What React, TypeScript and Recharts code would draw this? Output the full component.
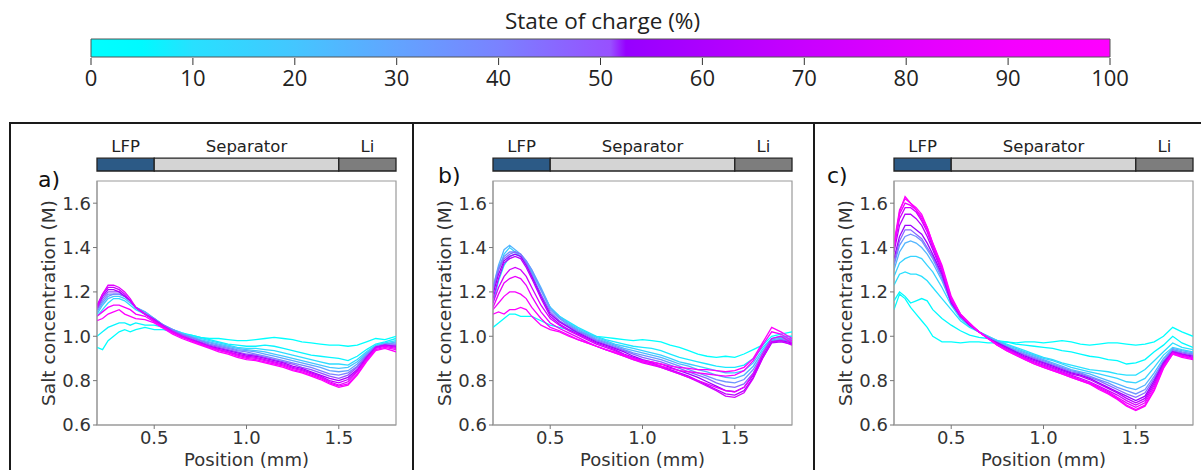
import React from 'react';
import { LineChart, Line, XAxis, YAxis, ReferenceArea, Label, BarChart, Bar } from 'recharts';

// Position grid (mm) shared by all profiles
const positions = [0.19, 0.22, 0.25, 0.28, 0.31, 0.34, 0.37, 0.40, 0.45, 0.50, 0.55, 0.60, 0.65, 0.70, 0.75, 0.80, 0.85, 0.90, 0.95, 1.00, 1.05, 1.10, 1.15, 1.20, 1.25, 1.30, 1.35, 1.40, 1.45, 1.50, 1.55, 1.60, 1.65, 1.70, 1.75, 1.81];

const socTicks = [0, 10, 20, 30, 40, 50, 60, 70, 80, 90, 100];
const socRange = [{ name: 'soc', value: 100 }];
const xTicks = [0.5, 1.0, 1.5];
const yTicks = [0.6, 0.8, 1.0, 1.2, 1.4, 1.6];

const regions = [
  { name: 'LFP', from: 0.19, to: 0.5 },
  { name: 'Separator', from: 0.5, to: 1.5 },
  { name: 'Li', from: 1.5, to: 1.81 },
];
const regionFills = ['#2C5A86', '#D4D4D4', '#7D7D7D'];

// Panel a
const panelASoc = [0, 6, 12, 20, 30, 40, 50, 60, 70, 82, 92, 100];
const panelACurves = [
  [0.95, 0.94, 0.98, 1.00, 1.02, 1.03, 1.02, 1.03, 1.04, 1.03, 1.03, 1.02, 1.01, 1.005, 0.995, 0.99, 0.99, 0.985, 0.98, 0.98, 0.985, 0.99, 0.995, 0.99, 0.985, 0.975, 0.97, 0.965, 0.96, 0.96, 0.955, 0.96, 0.975, 0.99, 0.985, 1.0],
  [1.00, 1.02, 1.04, 1.05, 1.06, 1.06, 1.05, 1.06, 1.05, 1.05, 1.04, 1.03, 1.015, 1.005, 0.995, 0.985, 0.975, 0.965, 0.96, 0.955, 0.955, 0.96, 0.955, 0.945, 0.935, 0.925, 0.915, 0.91, 0.905, 0.90, 0.89, 0.91, 0.94, 0.965, 0.975, 0.99],
  [1.09, 1.12, 1.15, 1.17, 1.17, 1.16, 1.14, 1.12, 1.10, 1.08, 1.05, 1.03, 1.015, 1.0, 0.99, 0.98, 0.97, 0.96, 0.95, 0.945, 0.945, 0.94, 0.935, 0.925, 0.915, 0.905, 0.895, 0.885, 0.875, 0.875, 0.87, 0.895, 0.93, 0.96, 0.97, 0.98],
  [1.10, 1.14, 1.17, 1.18, 1.18, 1.17, 1.15, 1.13, 1.11, 1.08, 1.05, 1.03, 1.01, 1.0, 0.985, 0.975, 0.965, 0.955, 0.945, 0.94, 0.935, 0.93, 0.92, 0.91, 0.9, 0.89, 0.88, 0.87, 0.86, 0.855, 0.86, 0.885, 0.925, 0.955, 0.965, 0.975],
  [1.11, 1.15, 1.18, 1.19, 1.19, 1.18, 1.16, 1.13, 1.11, 1.08, 1.05, 1.03, 1.01, 0.995, 0.98, 0.97, 0.96, 0.95, 0.94, 0.935, 0.93, 0.92, 0.91, 0.9, 0.89, 0.88, 0.87, 0.86, 0.845, 0.84, 0.845, 0.875, 0.92, 0.955, 0.965, 0.97],
  [1.12, 1.16, 1.19, 1.19, 1.19, 1.18, 1.16, 1.13, 1.10, 1.08, 1.05, 1.03, 1.01, 0.995, 0.98, 0.965, 0.955, 0.945, 0.935, 0.93, 0.92, 0.91, 0.9, 0.89, 0.88, 0.87, 0.86, 0.845, 0.83, 0.825, 0.835, 0.865, 0.915, 0.955, 0.965, 0.965],
  [1.12, 1.17, 1.2, 1.2, 1.2, 1.18, 1.16, 1.13, 1.10, 1.075, 1.05, 1.025, 1.005, 0.99, 0.975, 0.96, 0.95, 0.94, 0.93, 0.92, 0.915, 0.905, 0.895, 0.885, 0.875, 0.86, 0.85, 0.835, 0.82, 0.81, 0.825, 0.86, 0.91, 0.95, 0.96, 0.96],
  [1.13, 1.18, 1.21, 1.21, 1.2, 1.18, 1.16, 1.13, 1.10, 1.075, 1.045, 1.02, 1.0, 0.985, 0.97, 0.955, 0.945, 0.935, 0.925, 0.915, 0.91, 0.9, 0.89, 0.88, 0.865, 0.855, 0.84, 0.825, 0.81, 0.8, 0.815, 0.85, 0.905, 0.95, 0.96, 0.955],
  [1.14, 1.19, 1.22, 1.22, 1.21, 1.19, 1.16, 1.13, 1.10, 1.07, 1.045, 1.02, 1.0, 0.985, 0.97, 0.955, 0.94, 0.93, 0.92, 0.91, 0.905, 0.895, 0.885, 0.875, 0.86, 0.85, 0.835, 0.82, 0.8, 0.79, 0.805, 0.845, 0.9, 0.95, 0.96, 0.95],
  [1.13, 1.19, 1.23, 1.23, 1.22, 1.2, 1.17, 1.13, 1.10, 1.07, 1.04, 1.02, 1.0, 0.98, 0.965, 0.95, 0.94, 0.93, 0.915, 0.905, 0.9, 0.89, 0.88, 0.87, 0.855, 0.845, 0.83, 0.815, 0.795, 0.78, 0.795, 0.84, 0.895, 0.945, 0.955, 0.945],
  [1.09, 1.11, 1.13, 1.14, 1.14, 1.13, 1.12, 1.1, 1.09, 1.065, 1.04, 1.015, 0.995, 0.98, 0.965, 0.95, 0.935, 0.925, 0.91, 0.9, 0.895, 0.885, 0.875, 0.865, 0.85, 0.84, 0.825, 0.81, 0.79, 0.775, 0.785, 0.83, 0.89, 0.94, 0.95, 0.94],
  [1.07, 1.08, 1.1, 1.11, 1.12, 1.1, 1.09, 1.08, 1.075, 1.06, 1.035, 1.01, 0.99, 0.975, 0.96, 0.945, 0.93, 0.92, 0.905, 0.895, 0.89, 0.88, 0.87, 0.86, 0.845, 0.835, 0.82, 0.805, 0.785, 0.77, 0.78, 0.825, 0.885, 0.935, 0.945, 0.93],
];

// Panel b
const panelBSoc = [0, 8, 16, 25, 35, 45, 55, 65, 75, 85, 93, 100];
const panelBCurves = [
  [1.04, 1.06, 1.08, 1.10, 1.10, 1.09, 1.09, 1.09, 1.07, 1.05, 1.04, 1.03, 1.02, 1.01, 1.0, 0.995, 0.99, 0.985, 0.98, 0.985, 0.98, 0.975, 0.96, 0.95, 0.935, 0.92, 0.91, 0.905, 0.91, 0.905, 0.92, 0.94, 0.96, 1.0, 1.01, 1.02],
  [1.15, 1.25, 1.32, 1.36, 1.37, 1.36, 1.33, 1.29, 1.21, 1.13, 1.09, 1.065, 1.04, 1.02, 1.0, 0.985, 0.975, 0.965, 0.955, 0.95, 0.945, 0.935, 0.92, 0.905, 0.895, 0.885, 0.875, 0.865, 0.86, 0.86, 0.87, 0.9, 0.95, 0.99, 1.0, 1.0],
  [1.2, 1.3, 1.37, 1.40, 1.38, 1.36, 1.33, 1.29, 1.21, 1.13, 1.09, 1.06, 1.035, 1.015, 0.995, 0.98, 0.965, 0.955, 0.945, 0.935, 0.925, 0.915, 0.9, 0.885, 0.875, 0.865, 0.855, 0.845, 0.835, 0.835, 0.845, 0.88, 0.94, 0.99, 0.995, 0.99],
  [1.22, 1.32, 1.39, 1.41, 1.39, 1.37, 1.34, 1.3, 1.22, 1.13, 1.085, 1.055, 1.03, 1.01, 0.99, 0.975, 0.96, 0.945, 0.935, 0.925, 0.915, 0.905, 0.89, 0.875, 0.865, 0.85, 0.84, 0.825, 0.815, 0.81, 0.825, 0.865, 0.93, 0.985, 0.99, 0.985],
  [1.22, 1.31, 1.36, 1.38, 1.38, 1.37, 1.34, 1.3, 1.21, 1.12, 1.08, 1.05, 1.025, 1.005, 0.985, 0.97, 0.955, 0.94, 0.925, 0.915, 0.905, 0.895, 0.88, 0.865, 0.85, 0.835, 0.82, 0.805, 0.795, 0.79, 0.805, 0.85, 0.92, 0.98, 0.985, 0.98],
  [1.21, 1.3, 1.35, 1.37, 1.38, 1.37, 1.33, 1.28, 1.19, 1.11, 1.07, 1.045, 1.02, 1.0, 0.98, 0.965, 0.95, 0.935, 0.92, 0.905, 0.895, 0.885, 0.87, 0.855, 0.84, 0.825, 0.81, 0.79, 0.775, 0.77, 0.785, 0.835, 0.91, 0.975, 0.985, 0.975],
  [1.19, 1.28, 1.34, 1.36, 1.37, 1.36, 1.32, 1.27, 1.18, 1.1, 1.065, 1.04, 1.015, 0.995, 0.975, 0.96, 0.945, 0.93, 0.91, 0.895, 0.885, 0.875, 0.86, 0.845, 0.83, 0.815, 0.795, 0.775, 0.755, 0.75, 0.77, 0.825, 0.905, 0.975, 0.98, 0.97],
  [1.17, 1.26, 1.33, 1.35, 1.36, 1.35, 1.31, 1.26, 1.17, 1.09, 1.055, 1.03, 1.01, 0.99, 0.97, 0.955, 0.94, 0.92, 0.905, 0.89, 0.88, 0.865, 0.85, 0.835, 0.82, 0.8, 0.78, 0.76, 0.74, 0.735, 0.755, 0.815, 0.9, 0.97, 0.975, 0.965],
  [1.15, 1.22, 1.27, 1.3, 1.31, 1.3, 1.27, 1.22, 1.14, 1.08, 1.05, 1.025, 1.005, 0.985, 0.965, 0.95, 0.935, 0.915, 0.9, 0.885, 0.875, 0.86, 0.845, 0.83, 0.815, 0.795, 0.775, 0.755, 0.73, 0.725, 0.745, 0.81, 0.9, 0.975, 0.98, 0.96],
  [1.13, 1.19, 1.24, 1.26, 1.27, 1.26, 1.23, 1.18, 1.11, 1.06, 1.035, 1.015, 0.995, 0.975, 0.955, 0.94, 0.925, 0.91, 0.895, 0.88, 0.87, 0.86, 0.845, 0.83, 0.815, 0.8, 0.785, 0.77, 0.755, 0.75, 0.77, 0.83, 0.92, 0.99, 1.0, 0.97],
  [1.12, 1.15, 1.18, 1.2, 1.2, 1.19, 1.17, 1.13, 1.08, 1.04, 1.025, 1.005, 0.985, 0.97, 0.955, 0.94, 0.925, 0.91, 0.895, 0.885, 0.875, 0.865, 0.855, 0.845, 0.84, 0.835, 0.83, 0.825, 0.82, 0.825, 0.845, 0.89, 0.96, 1.02, 1.01, 0.98],
  [1.1, 1.11, 1.1, 1.12, 1.12, 1.13, 1.12, 1.09, 1.05, 1.03, 1.02, 1.0, 0.985, 0.97, 0.955, 0.94, 0.93, 0.915, 0.9, 0.89, 0.885, 0.875, 0.865, 0.86, 0.855, 0.85, 0.85, 0.845, 0.84, 0.845, 0.86, 0.9, 0.97, 1.04, 1.02, 0.99],
];

// Panel c
const panelCSoc = [0, 5, 10, 15, 25, 35, 45, 55, 65, 75, 85, 95, 100];
const panelCCurves = [
  [1.12, 1.19, 1.17, 1.13, 1.1, 1.07, 1.04, 1.0, 0.975, 0.975, 0.97, 0.975, 0.975, 0.97, 0.97, 0.975, 0.97, 0.975, 0.975, 0.97, 0.975, 0.98, 0.975, 0.965, 0.96, 0.965, 0.97, 0.97, 0.965, 0.96, 0.965, 0.975, 1.0, 1.04, 1.02, 1.0],
  [1.16, 1.2, 1.18, 1.15, 1.16, 1.17, 1.16, 1.12, 1.08, 1.05, 1.025, 1.005, 0.995, 0.99, 0.98, 0.975, 0.965, 0.96, 0.955, 0.95, 0.945, 0.935, 0.93, 0.92, 0.91, 0.905, 0.895, 0.89, 0.875, 0.88, 0.895, 0.93, 0.96, 1.0, 0.97, 0.95],
  [1.23, 1.28, 1.29, 1.28, 1.28, 1.27, 1.25, 1.22, 1.17, 1.12, 1.07, 1.04, 1.02, 1.0, 0.98, 0.965, 0.95, 0.935, 0.92, 0.905, 0.895, 0.88, 0.87, 0.86, 0.85, 0.845, 0.84, 0.83, 0.825, 0.825, 0.85, 0.89, 0.93, 0.97, 0.95, 0.94],
  [1.27, 1.33, 1.35, 1.36, 1.36, 1.35, 1.32, 1.29, 1.22, 1.14, 1.08, 1.045, 1.02, 1.0, 0.98, 0.96, 0.945, 0.93, 0.915, 0.9, 0.89, 0.875, 0.86, 0.85, 0.84, 0.83, 0.82, 0.81, 0.795, 0.79, 0.81, 0.86, 0.915, 0.95, 0.94, 0.93],
  [1.3, 1.38, 1.42, 1.43, 1.42, 1.4, 1.37, 1.33, 1.25, 1.15, 1.09, 1.05, 1.02, 1.0, 0.975, 0.955, 0.94, 0.925, 0.91, 0.895, 0.88, 0.865, 0.85, 0.84, 0.83, 0.815, 0.8, 0.785, 0.77, 0.76, 0.78, 0.835, 0.9, 0.945, 0.935, 0.925],
  [1.32, 1.41, 1.45, 1.46, 1.45, 1.43, 1.39, 1.35, 1.26, 1.15, 1.09, 1.05, 1.02, 0.995, 0.975, 0.955, 0.935, 0.92, 0.905, 0.89, 0.875, 0.86, 0.845, 0.835, 0.82, 0.805, 0.79, 0.77, 0.755, 0.74, 0.76, 0.82, 0.89, 0.94, 0.93, 0.92],
  [1.33, 1.43, 1.48, 1.48, 1.46, 1.44, 1.4, 1.36, 1.27, 1.15, 1.09, 1.05, 1.02, 0.995, 0.97, 0.95, 0.93, 0.915, 0.9, 0.885, 0.87, 0.855, 0.84, 0.83, 0.815, 0.8, 0.78, 0.76, 0.74, 0.725, 0.745, 0.81, 0.885, 0.935, 0.925, 0.915],
  [1.35, 1.45, 1.5, 1.5, 1.48, 1.46, 1.42, 1.37, 1.28, 1.15, 1.09, 1.05, 1.02, 0.99, 0.97, 0.95, 0.93, 0.91, 0.895, 0.88, 0.865, 0.85, 0.835, 0.825, 0.81, 0.79, 0.77, 0.75, 0.73, 0.71, 0.73, 0.8, 0.88, 0.93, 0.92, 0.91],
  [1.38, 1.5, 1.55, 1.55, 1.53, 1.5, 1.45, 1.39, 1.29, 1.16, 1.09, 1.055, 1.02, 0.99, 0.965, 0.945, 0.925, 0.905, 0.89, 0.875, 0.86, 0.845, 0.83, 0.82, 0.805, 0.785, 0.765, 0.745, 0.72, 0.7, 0.72, 0.79, 0.875, 0.93, 0.92, 0.905],
  [1.4, 1.53, 1.58, 1.58, 1.56, 1.52, 1.47, 1.4, 1.3, 1.16, 1.09, 1.055, 1.02, 0.99, 0.965, 0.94, 0.92, 0.9, 0.885, 0.87, 0.855, 0.84, 0.825, 0.81, 0.795, 0.775, 0.755, 0.735, 0.71, 0.69, 0.71, 0.78, 0.87, 0.925, 0.915, 0.9],
  [1.41, 1.55, 1.6, 1.59, 1.57, 1.53, 1.48, 1.41, 1.31, 1.17, 1.1, 1.055, 1.02, 0.99, 0.96, 0.94, 0.92, 0.9, 0.88, 0.865, 0.85, 0.835, 0.82, 0.805, 0.79, 0.77, 0.75, 0.725, 0.7, 0.68, 0.7, 0.77, 0.865, 0.925, 0.91, 0.9],
  [1.42, 1.57, 1.62, 1.6, 1.57, 1.54, 1.49, 1.42, 1.31, 1.17, 1.1, 1.055, 1.02, 0.99, 0.96, 0.935, 0.915, 0.895, 0.875, 0.86, 0.845, 0.83, 0.815, 0.8, 0.785, 0.765, 0.745, 0.72, 0.69, 0.67, 0.69, 0.76, 0.86, 0.92, 0.91, 0.9],
  [1.4, 1.56, 1.63, 1.6, 1.58, 1.55, 1.49, 1.42, 1.32, 1.18, 1.1, 1.06, 1.02, 0.99, 0.96, 0.935, 0.915, 0.895, 0.875, 0.86, 0.845, 0.83, 0.815, 0.8, 0.785, 0.76, 0.74, 0.715, 0.685, 0.665, 0.685, 0.755, 0.855, 0.92, 0.905, 0.895],
];

// Colormap stops: [soc, r, g, b]
const cmap: number[][] = [
  [0, 0, 255, 255], [5, 0, 250, 255], [10, 40, 224, 255], [20, 68, 198, 255], [30, 98, 164, 255],
  [40, 122, 130, 255], [46, 138, 102, 255], [51, 152, 80, 255], [52.5, 150, 0, 255], [60, 172, 0, 255],
  [70, 200, 0, 255], [80, 224, 0, 255], [90, 244, 0, 255], [100, 255, 0, 255],
];

function rgb(r: number, g: number, b: number) {
  return `rgb(${Math.round(r)},${Math.round(g)},${Math.round(b)})`;
}

function socColor(v: number) {
  for (let i = 0; i < cmap.length - 1; i++) {
    const a = cmap[i];
    const b = cmap[i + 1];
    if (v >= a[0] && v <= b[0]) {
      const t = (v - a[0]) / (b[0] - a[0] || 1);
      return rgb(a[1] + (b[1] - a[1]) * t, a[2] + (b[2] - a[2]) * t, a[3] + (b[3] - a[3]) * t);
    }
  }
  const l = cmap[cmap.length - 1];
  return rgb(l[1], l[2], l[3]);
}

const PLOT_TOP = 181;
const PLOT_W = 299;
const PLOT_H = 244;
const Y_AXIS_W = 70;
const M_TOP = 50;
const M_RIGHT = 12;
const X_AXIS_H = 48;

const textFill = '#333';

function Panel({ plotLeft, socs, curves }: { plotLeft: number; socs: number[]; curves: number[][] }) {
  const rows = positions.map((x, i) => {
    const r: Record<string, number> = { x };
    curves.forEach((c, j) => {
      r['c' + j] = c[i];
    });
    return r;
  });
  return (
    <div style={{ position: 'absolute', left: plotLeft - Y_AXIS_W, top: PLOT_TOP - M_TOP }}>
      <LineChart
        width={Y_AXIS_W + PLOT_W + M_RIGHT}
        height={M_TOP + PLOT_H + X_AXIS_H}
        data={rows}
        margin={{ top: M_TOP, right: M_RIGHT, bottom: 0, left: 0 }}
      >
        <XAxis
          type="number"
          dataKey="x"
          domain={[0.19, 1.81]}
          ticks={xTicks}
          interval={0}
          allowDataOverflow
          tickFormatter={(v: number) => v.toFixed(1)}
          height={X_AXIS_H}
          tickSize={4}
          tick={{ fontSize: 18, fill: textFill }}
          axisLine={{ stroke: '#9a9a9a' }}
          tickLine={{ stroke: '#777' }}
        >
          <Label value="Position (mm)" position="insideBottom" offset={7} style={{ fontSize: 18, fill: textFill }} />
        </XAxis>
        <YAxis
          type="number"
          domain={[0.6, 1.7]}
          ticks={yTicks}
          interval={0}
          allowDataOverflow
          tickFormatter={(v: number) => v.toFixed(1)}
          width={Y_AXIS_W}
          tickSize={4}
          tick={{ fontSize: 18, fill: textFill }}
          axisLine={{ stroke: '#9a9a9a' }}
          tickLine={{ stroke: '#777' }}
        >
          <Label
            value="Salt concentration (M)"
            angle={-90}
            position="insideLeft"
            offset={21}
            style={{ textAnchor: 'middle', fontSize: 18.5, fill: textFill }}
          />
        </YAxis>
        {curves.map((c, j) => (
          <Line
            key={j}
            dataKey={'c' + j}
            type="linear"
            stroke={socColor(socs[j])}
            strokeWidth={1.3}
            dot={false}
            activeDot={false}
            isAnimationActive={false}
          />
        ))}
        <ReferenceArea x1={0.19} x2={1.81} y1={0.6} y2={1.7} fill="none" stroke="#9a9a9a" strokeWidth={1.2} ifOverflow="visible" />
        {regions.map((r, k) => (
          <ReferenceArea
            key={r.name}
            x1={r.from}
            x2={r.to}
            y1={1.745}
            y2={1.803}
            fill={regionFills[k]}
            fillOpacity={1}
            stroke="#222"
            strokeWidth={1.3}
            ifOverflow="visible"
            label={{ value: r.name, position: 'top', offset: 6, fontSize: 16.5, fill: '#222' }}
          />
        ))}
      </LineChart>
    </div>
  );
}

function ColorBar() {
  const pad = 30;
  return (
    <div style={{ position: 'absolute', left: 91 - pad, top: 38 }}>
      <BarChart width={1019 + pad * 2} height={20 + 44} data={socRange} layout="vertical" margin={{ top: 0, right: pad, bottom: 0, left: pad }}>
        <defs>
          <linearGradient id="socGrad" x1="0" y1="0" x2="1" y2="0">
            {cmap.map((s, i) => (
              <stop key={i} offset={`${s[0]}%`} stopColor={rgb(s[1], s[2], s[3])} />
            ))}
          </linearGradient>
        </defs>
        <XAxis
          type="number"
          domain={[0, 100]}
          ticks={socTicks}
          interval={0}
          height={44}
          tickSize={7}
          tickMargin={5}
          axisLine={false}
          tickLine={{ stroke: '#333' }}
          tick={{ fontSize: 22, fill: '#222', fontFamily: 'Open Sans' }}
        />
        <YAxis type="category" dataKey="name" hide />
        <Bar dataKey="value" fill="url(#socGrad)" stroke="#555" strokeWidth={1} barSize={20} isAnimationActive={false} />
      </BarChart>
    </div>
  );
}

export default function App() {
  const tagStyle: React.CSSProperties = { position: 'absolute', fontSize: 22, lineHeight: '22px', color: '#111' };
  return (
    <div
      style={{
        position: 'absolute',
        left: 0,
        top: 0,
        width: 1201,
        height: 470,
        overflow: 'hidden',
        background: '#fff',
        fontFamily: '"DejaVu Sans", sans-serif',
      }}
    >
      <div
        style={{
          position: 'absolute',
          left: 0,
          width: 1201,
          top: 8,
          textAlign: 'center',
          fontFamily: '"Open Sans", sans-serif',
          fontSize: 22.5,
          lineHeight: '26px',
          color: '#222',
          paddingLeft: 2,
        }}
      >
        State of charge (%)
      </div>
      <ColorBar />
      <div style={{ position: 'absolute', left: 9, top: 122, width: 1200, height: 400, border: '2px solid #1a1a1a', boxSizing: 'border-box' }} />
      <div style={{ position: 'absolute', left: 412, top: 122, width: 2, height: 400, background: '#1a1a1a' }} />
      <div style={{ position: 'absolute', left: 813, top: 122, width: 2, height: 400, background: '#1a1a1a' }} />
      <Panel plotLeft={97} socs={panelASoc} curves={panelACurves} />
      <Panel plotLeft={493} socs={panelBSoc} curves={panelBCurves} />
      <Panel plotLeft={894} socs={panelCSoc} curves={panelCCurves} />
      <div style={{ ...tagStyle, left: 38, top: 169 }}>a)</div>
      <div style={{ ...tagStyle, left: 438, top: 165 }}>b)</div>
      <div style={{ ...tagStyle, left: 827, top: 165 }}>c)</div>
    </div>
  );
}
